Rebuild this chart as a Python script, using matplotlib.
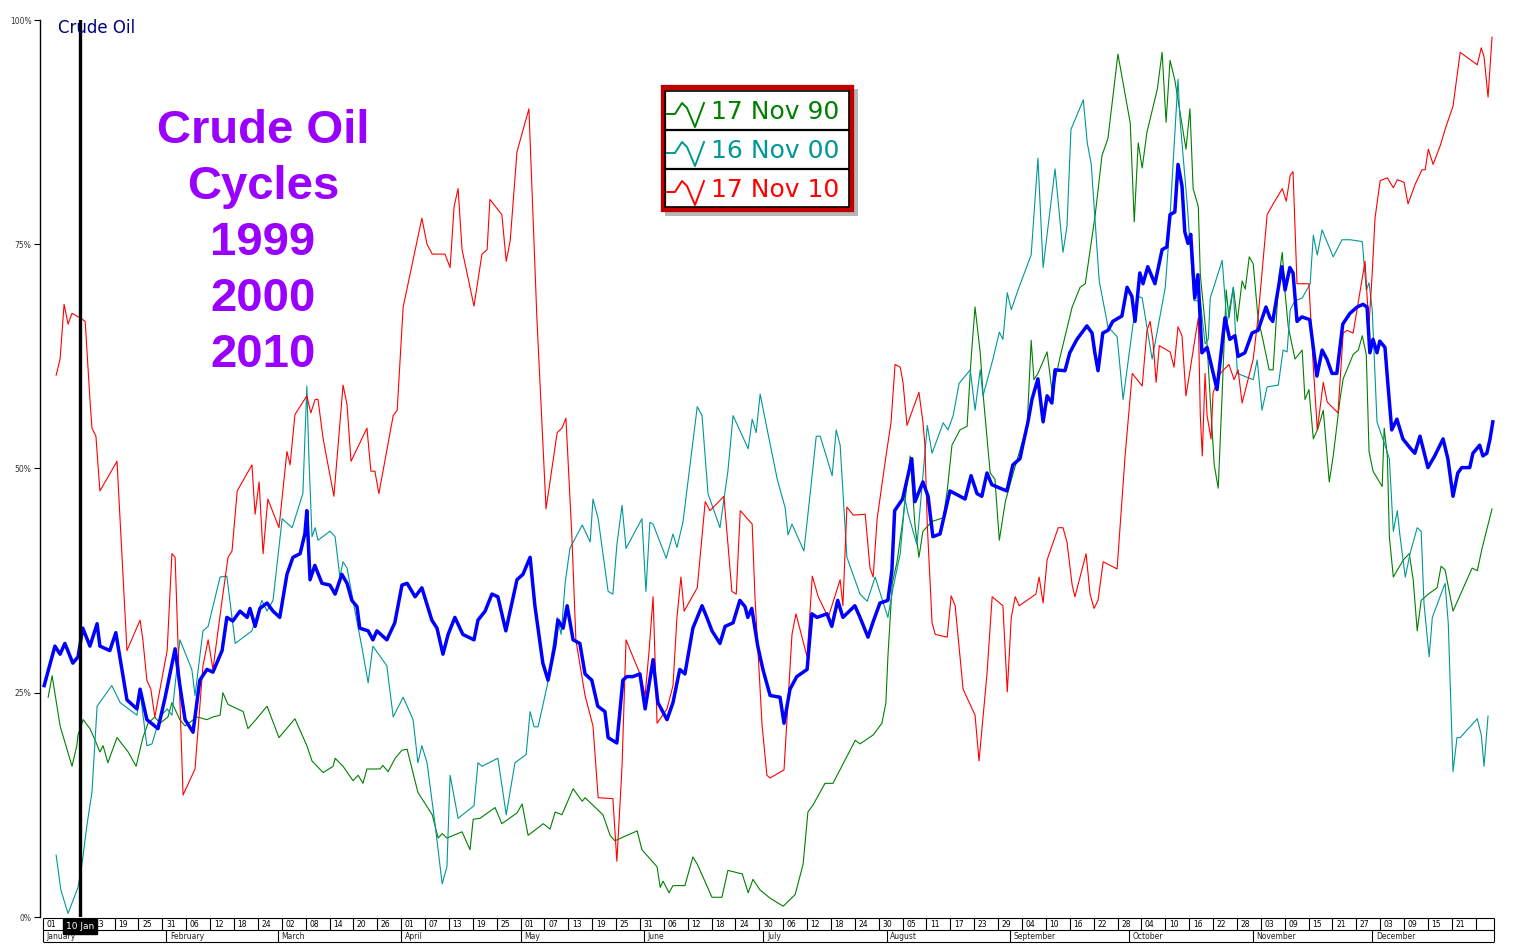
import matplotlib
matplotlib.use("Agg")
import matplotlib.pyplot as plt
from matplotlib.patches import Rectangle

# ---- data (day of year, percent) ----
GREEN_90 = [(1.3, 24.5), (2.3, 26.9), (4.3, 21.3), (7.3, 16.8), (8.5, 19.1), (8.8, 20.3), (10.1, 22.0), (11.8, 21.0),
            (13.1, 19.7), (14.3, 18.4), (15.1, 19.1), (16.3, 17.2), (18.6, 20.0), (21.4, 18.4), (23.4, 16.8), (25.1, 20.0),
            (26.4, 21.6), (28.1, 22.3), (29.4, 21.6), (31.4, 22.3), (32.4, 23.9), (34.4, 22.0), (35.7, 21.3), (38.7, 22.3),
            (41.2, 22.0), (42.7, 22.3), (44.5, 22.5), (45.2, 25.0), (46.5, 23.7), (50.3, 22.9), (51.5, 21.0), (53.3, 21.9),
            (56.3, 23.5), (59.3, 20.0), (63.3, 22.1), (66.3, 19.1), (67.6, 17.4), (70.4, 16.1), (72.9, 16.8), (73.4, 17.7),
            (75.4, 16.8), (77.9, 15.2), (79.2, 15.8), (80.4, 14.9), (81.4, 16.5), (84.7, 16.5), (85.4, 16.9), (86.7, 16.2),
            (88.5, 17.7), (90.2, 18.6), (91.5, 18.7), (94.2, 13.9), (97.8, 11.4), (99.3, 8.8), (100.3, 9.3), (101.5, 8.8),
            (105.3, 9.5), (107.3, 7.5), (108.1, 10.9), (109.8, 11.0), (113.6, 12.2), (115.3, 10.4), (119.1, 11.6),
            (120.4, 12.6), (121.9, 9.1), (125.7, 10.4), (127.4, 9.8), (128.7, 11.7), (130.4, 11.4), (133.2, 14.3),
            (135.5, 12.9), (136.2, 13.3), (140.7, 11.4), (142.5, 9.1), (143.7, 8.5), (149.3, 9.6), (150.5, 7.5),
            (154.3, 5.6), (155.1, 3.3), (155.8, 4.0), (157.3, 2.7), (158.3, 3.5), (161.3, 3.5), (163.3, 6.7), (164.4, 5.9),
            (168.1, 2.2), (170.6, 2.2), (172.1, 5.2), (175.7, 4.8), (177.2, 2.7), (178.4, 4.2), (180.2, 3.0), (182.7, 2.1),
            (186.0, 1.2), (189.0, 2.5), (191.0, 5.9), (192.2, 11.7), (193.5, 12.5), (196.5, 14.9), (198.5, 14.9),
            (204.1, 19.7), (205.3, 19.3), (208.6, 20.3), (210.8, 21.6), (211.8, 23.9), (212.3, 29.0), (213.4, 37.2),
            (214.6, 39.6), (216.1, 44.4), (217.9, 51.4), (219.1, 43.7), (220.1, 40.1), (221.1, 43.0), (223.4, 44.1),
            (226.2, 44.5), (227.2, 47.5), (228.4, 52.6), (230.4, 54.3), (232.2, 54.7), (233.2, 62.2), (234.2, 68.0),
            (235.5, 62.9), (236.2, 58.4), (238.0, 49.5), (239.2, 48.8), (240.3, 42.0), (241.8, 46.3), (243.8, 49.5),
            (247.3, 54.8), (248.3, 64.3), (249.0, 59.9), (250.0, 60.6), (252.3, 63.0), (253.6, 58.4), (255.6, 62.5),
            (258.6, 68.0), (260.6, 70.2), (261.9, 70.6), (264.4, 78.3), (266.1, 84.9), (267.6, 86.8), (270.1, 96.2),
            (273.2, 88.5), (274.2, 77.5), (275.2, 86.3), (276.2, 83.5), (277.4, 87.5), (280.0, 92.3), (281.2, 96.4),
            (282.2, 88.6), (283.2, 95.5), (284.4, 93.3), (287.2, 85.6), (288.2, 90.1), (289.0, 81.2), (290.3, 79.2),
            (290.8, 71.6), (292.5, 63.9), (293.3, 57.7), (294.3, 50.4), (295.3, 47.8), (296.3, 58.4), (297.3, 69.9),
            (298.0, 66.8), (299.1, 70.2), (300.1, 66.4), (301.3, 70.9), (302.1, 70.0), (303.1, 73.6), (304.1, 72.8),
            (305.3, 66.8), (306.6, 64.2), (308.1, 61.0), (309.1, 61.0), (310.6, 71.6), (311.4, 74.1), (312.1, 69.6),
            (312.9, 65.8), (314.6, 62.2), (316.4, 63.2), (317.1, 57.7), (318.1, 58.8), (319.2, 53.3), (320.4, 54.5),
            (321.7, 56.5), (323.2, 48.5), (324.2, 51.4), (325.9, 57.7), (326.7, 60.0), (329.2, 62.7), (330.5, 63.2),
            (331.5, 64.8), (332.5, 62.7), (333.2, 51.9), (334.2, 49.7), (336.5, 48.0), (337.0, 54.5), (337.8, 51.4),
            (338.3, 42.4), (339.3, 37.9), (341.8, 39.8), (343.3, 40.5), (344.3, 37.6), (345.3, 31.9), (346.3, 35.3),
            (348.1, 36.0), (350.3, 36.7), (351.3, 39.1), (352.3, 38.7), (354.3, 34.1), (359.1, 38.9), (360.4, 38.6),
            (361.6, 41.1), (364.1, 45.5)]

TEAL_00 = [(3.3, 6.9), (4.5, 3.0), (6.3, 0.4), (8.8, 3.3), (9.8, 5.9), (11.1, 10.4), (12.3, 13.9), (13.6, 23.5),
           (17.3, 25.8), (19.4, 23.9), (23.6, 22.5), (24.4, 25.1), (26.1, 19.1), (27.4, 19.3), (29.4, 22.3), (31.2, 23.2),
           (32.4, 22.5), (34.4, 30.9), (37.4, 27.6), (38.2, 24.7), (40.2, 31.9), (41.5, 32.4), (44.5, 37.9), (46.2, 38.0),
           (48.3, 30.5), (52.5, 31.9), (55.0, 35.3), (56.3, 34.1), (57.8, 35.3), (60.1, 44.4), (62.6, 43.4), (65.3, 47.2),
           (66.3, 59.2), (66.8, 51.4), (67.6, 42.4), (68.4, 43.4), (69.1, 42.0), (72.1, 43.0), (73.4, 42.4), (74.6, 37.9),
           (75.4, 39.6), (76.4, 38.9), (78.4, 34.1), (80.2, 29.9), (81.7, 26.1), (82.9, 30.2), (86.4, 28.0), (88.0, 22.3),
           (90.5, 24.5), (93.0, 22.0), (94.2, 17.2), (95.2, 19.1), (96.5, 17.2), (98.5, 10.4), (100.3, 3.7), (101.5, 5.6),
           (102.3, 15.8), (104.3, 11.0), (108.3, 12.4), (109.3, 17.2), (110.3, 16.8), (114.3, 17.7), (116.4, 11.4),
           (118.6, 17.2), (121.4, 18.1), (122.4, 22.9), (123.4, 21.2), (124.4, 21.2), (126.7, 25.8), (129.2, 33.4),
           (130.2, 31.5), (131.2, 37.2), (132.4, 41.1), (135.5, 43.7), (137.5, 41.8), (138.2, 46.6), (139.5, 44.4),
           (142.0, 36.3), (143.2, 36.0), (144.2, 41.5), (145.5, 45.9), (146.5, 41.1), (150.5, 44.4), (151.5, 36.3),
           (152.5, 44.0), (153.3, 43.8), (156.6, 40.0), (158.3, 42.7), (159.3, 41.2), (160.8, 44.0), (164.4, 56.9),
           (165.6, 55.9), (167.1, 47.2), (170.1, 43.4), (172.1, 49.7), (173.4, 55.9), (177.2, 52.2), (178.2, 55.5),
           (179.2, 54.0), (180.2, 58.3), (181.9, 54.5), (184.5, 48.8), (186.5, 45.6), (187.2, 42.6), (188.2, 43.8),
           (191.2, 40.8), (192.7, 46.9), (194.3, 53.6), (195.3, 53.6), (198.3, 49.2), (199.3, 54.3), (200.3, 52.6),
           (202.0, 40.1), (205.3, 36.0), (207.1, 35.2), (209.1, 37.9), (212.3, 33.4), (213.6, 36.7), (215.4, 40.5),
           (216.6, 46.6), (217.4, 44.9), (219.6, 41.5), (222.2, 54.8), (223.4, 51.7), (226.2, 55.1), (227.4, 54.3),
           (228.7, 55.9), (230.2, 59.5), (233.0, 61.0), (234.2, 56.5), (235.5, 61.0), (236.2, 58.1), (238.7, 62.2),
           (240.3, 65.2), (241.2, 64.4), (242.3, 69.6), (243.3, 67.7), (245.0, 69.9), (248.3, 73.8), (250.0, 84.6),
           (251.3, 72.4), (254.3, 83.4), (256.3, 74.1), (257.3, 77.0), (258.3, 87.8), (261.4, 91.1), (262.4, 86.3),
           (263.4, 83.9), (265.4, 70.9), (267.6, 65.8), (269.9, 64.7), (271.4, 57.7), (273.9, 66.1), (275.2, 69.2),
           (276.2, 69.0), (278.7, 62.2), (282.0, 70.2), (282.7, 74.4), (285.2, 93.4), (285.7, 88.9), (287.5, 79.5),
           (289.2, 68.7), (290.8, 68.7), (292.0, 63.9), (292.8, 64.4), (293.3, 69.0), (296.3, 73.2), (297.5, 66.1),
           (298.3, 68.3), (299.1, 70.2), (300.1, 60.6), (304.1, 59.9), (305.1, 62.1), (306.3, 56.5), (307.6, 59.1),
           (310.4, 59.3), (311.6, 63.2), (312.6, 63.0), (313.4, 67.7), (314.6, 68.7), (316.4, 69.0), (318.4, 70.6),
           (319.2, 76.0), (320.2, 73.8), (321.4, 76.6), (324.2, 73.6), (326.4, 75.5), (328.5, 75.5), (331.5, 75.3),
           (332.5, 69.9), (333.2, 70.7), (334.0, 67.7), (335.2, 55.2), (337.2, 52.6), (338.3, 51.1), (339.3, 43.0),
           (340.3, 45.3), (341.0, 42.4), (342.3, 37.9), (343.5, 40.5), (345.3, 43.4), (346.3, 43.0), (347.0, 35.0),
           (348.3, 29.0), (349.1, 33.4), (352.3, 37.2), (353.1, 32.8), (353.8, 23.2), (354.3, 16.2), (355.3, 20.0),
           (356.1, 20.0), (360.4, 22.1), (361.4, 20.3), (362.1, 16.8), (363.1, 22.4)]

RED_10 = [(3.3, 60.4), (4.3, 62.2), (5.3, 68.3), (6.3, 66.1), (7.3, 67.3), (9.3, 66.8), (10.6, 66.4), (11.8, 57.7),
          (12.3, 54.5), (13.3, 53.6), (14.3, 47.5), (18.6, 50.8), (21.1, 29.7), (24.4, 33.1), (25.1, 30.9), (26.1, 26.4),
          (27.1, 25.4), (28.1, 22.3), (31.2, 29.7), (32.4, 40.5), (33.2, 40.1), (35.2, 13.6), (38.2, 16.5), (40.2, 28.0),
          (41.5, 30.9), (42.7, 27.6), (45.0, 35.3), (46.5, 40.1), (47.5, 40.8), (48.8, 47.5), (52.5, 50.4), (53.3, 44.9),
          (54.3, 48.5), (55.3, 40.5), (56.5, 46.6), (59.3, 43.4), (61.3, 51.9), (62.1, 50.4), (63.3, 56.0), (66.3, 58.1),
          (67.3, 56.2), (68.4, 57.7), (69.1, 57.7), (70.4, 53.3), (73.1, 46.9), (75.4, 59.3), (76.4, 57.1), (77.4, 50.8),
          (81.4, 54.5), (82.4, 49.7), (83.4, 49.7), (84.4, 47.2), (88.0, 55.9), (89.0, 56.5), (90.5, 68.0), (95.2, 77.9),
          (96.5, 75.0), (97.8, 73.9), (101.0, 73.9), (102.3, 72.4), (103.3, 79.2), (104.3, 81.2), (105.3, 74.4),
          (108.3, 68.1), (110.3, 73.9), (111.6, 74.4), (112.3, 80.0), (115.3, 78.3), (116.4, 73.1), (117.4, 75.4),
          (119.1, 85.3), (122.1, 90.1), (124.1, 66.8), (126.4, 45.5), (129.2, 54.0), (130.4, 54.5), (131.4, 55.6),
          (132.9, 42.4), (133.9, 30.9), (136.2, 24.7), (138.2, 21.3), (139.5, 13.3), (143.2, 13.2), (144.2, 6.2),
          (145.5, 16.8), (146.5, 30.9), (150.0, 27.1), (151.3, 24.7), (152.3, 29.7), (153.3, 35.7), (154.3, 21.6),
          (156.8, 23.2), (158.3, 25.8), (159.3, 33.4), (160.3, 37.9), (161.1, 34.1), (164.4, 36.7), (166.4, 46.3),
          (167.6, 45.3), (171.1, 46.9), (173.1, 36.3), (174.2, 36.0), (175.2, 45.3), (178.2, 43.8), (178.9, 35.7),
          (180.7, 21.3), (181.9, 15.8), (182.7, 15.5), (186.2, 16.4), (188.2, 31.5), (189.2, 33.8), (192.0, 29.0),
          (193.3, 38.0), (194.8, 35.7), (197.3, 33.4), (200.3, 37.6), (201.0, 34.7), (202.0, 45.7), (203.6, 44.8),
          (206.6, 44.9), (207.8, 38.9), (208.6, 37.9), (209.6, 44.4), (211.6, 50.7), (213.1, 55.2), (214.1, 61.6),
          (215.4, 61.3), (216.1, 59.6), (217.1, 54.8), (220.1, 58.5), (221.1, 55.2), (221.6, 52.6), (222.2, 43.7),
          (223.4, 32.8), (224.2, 31.5), (227.2, 31.2), (228.2, 35.8), (229.2, 34.7), (231.2, 25.4), (234.2, 22.5),
          (235.2, 17.4), (237.2, 27.1), (238.5, 35.7), (241.2, 34.7), (242.3, 25.1), (243.3, 33.4), (244.3, 35.7),
          (245.3, 34.7), (249.5, 36.0), (250.3, 37.9), (251.3, 35.0), (252.3, 39.8), (255.1, 43.4), (256.3, 43.4),
          (257.3, 41.8), (258.6, 37.0), (259.3, 35.7), (262.1, 40.5), (263.1, 36.0), (264.1, 34.4), (265.1, 35.3),
          (266.4, 39.6), (269.9, 38.8), (270.4, 42.0), (271.9, 51.4), (273.7, 60.6), (276.2, 59.2), (277.4, 65.4),
          (278.2, 66.4), (278.9, 64.2), (279.7, 59.6), (280.5, 63.7), (283.2, 63.0), (284.2, 61.3), (285.2, 65.8),
          (286.2, 64.8), (287.2, 58.1), (290.3, 66.8), (290.8, 55.9), (291.3, 51.4), (292.0, 60.6), (292.5, 55.9),
          (293.5, 53.3), (294.0, 58.4), (295.8, 60.6), (298.0, 61.6), (299.3, 59.9), (300.3, 61.0), (301.3, 57.3),
          (304.1, 62.2), (305.3, 66.8), (307.6, 78.3), (309.1, 79.5), (311.4, 81.2), (312.4, 79.8), (313.4, 82.7),
          (314.1, 83.1), (315.1, 70.6), (318.1, 70.6), (319.2, 61.3), (320.2, 54.3), (321.7, 59.6), (322.7, 57.4),
          (325.4, 56.2), (326.7, 65.1), (327.7, 65.4), (329.2, 65.1), (332.2, 73.1), (332.7, 69.2), (333.2, 66.1),
          (334.0, 71.8), (334.7, 77.9), (336.0, 82.1), (337.8, 82.4), (339.3, 81.3), (340.3, 82.2), (342.0, 81.9),
          (343.0, 79.5), (344.8, 81.7), (346.5, 83.3), (347.3, 83.3), (348.1, 85.6), (349.3, 83.9), (351.1, 86.0),
          (352.3, 87.8), (354.3, 90.4), (356.1, 96.4), (360.4, 95.0), (361.4, 96.9), (362.1, 95.9), (363.1, 91.4),
          (364.1, 98.1)]

AVERAGE = [(0.3, 25.8), (3.0, 30.2), (4.3, 29.3), (5.5, 30.5), (7.5, 28.3), (8.8, 29.0), (10.0, 32.2), (11.8, 30.2),
           (13.6, 32.7), (14.3, 30.2), (16.8, 29.7), (18.3, 31.7), (21.1, 24.2), (23.6, 23.2), (24.4, 25.4), (26.1, 22.0),
           (28.9, 21.0), (30.7, 24.5), (33.2, 29.9), (34.4, 25.8), (35.7, 22.0), (37.7, 20.6), (39.4, 26.4), (41.2, 27.6),
           (42.7, 27.3), (45.0, 29.7), (46.2, 33.4), (47.7, 33.0), (49.5, 34.1), (51.3, 33.4), (52.0, 34.4), (53.3, 32.4),
           (54.5, 34.4), (56.3, 35.0), (57.8, 34.1), (59.5, 33.4), (61.3, 38.2), (62.8, 40.1), (64.6, 40.5), (65.8, 42.7),
           (66.3, 45.3), (67.1, 37.6), (68.3, 39.2), (70.1, 37.2), (72.1, 37.0), (73.4, 36.0), (75.1, 38.2), (76.4, 37.2),
           (77.6, 35.3), (78.9, 34.6), (79.6, 32.2), (81.7, 31.9), (82.9, 30.9), (83.9, 31.9), (86.4, 30.9), (88.4, 32.8),
           (90.2, 37.0), (91.5, 37.2), (93.5, 35.7), (95.2, 36.7), (97.7, 33.1), (99.0, 32.2), (100.5, 29.3),
           (101.8, 31.5), (103.5, 33.4), (105.5, 31.5), (108.3, 30.9), (109.3, 33.1), (111.1, 34.1), (112.8, 36.0),
           (114.3, 35.7), (116.3, 31.9), (119.1, 37.6), (120.6, 38.2), (122.4, 40.1), (123.6, 34.7), (125.6, 28.3),
           (126.9, 26.4), (128.6, 30.2), (129.4, 33.1), (130.7, 32.2), (131.7, 34.7), (133.2, 30.9), (134.9, 30.5),
           (136.2, 27.1), (137.9, 26.4), (139.4, 23.5), (141.2, 22.9), (142.0, 20.0), (144.2, 19.4), (145.7, 26.4),
           (146.7, 26.8), (148.2, 26.8), (150.0, 27.1), (151.3, 23.2), (153.3, 28.7), (154.5, 23.9), (156.8, 22.0),
           (158.3, 23.9), (160.0, 27.6), (161.3, 27.1), (163.3, 32.2), (165.6, 34.7), (166.8, 33.4), (168.1, 31.9),
           (170.1, 30.5), (171.4, 32.4), (173.4, 32.8), (175.1, 35.3), (176.4, 34.6), (177.1, 33.4), (178.1, 34.4),
           (179.6, 30.2), (180.9, 27.6), (182.7, 24.7), (185.2, 24.5), (186.2, 21.6), (187.7, 25.4), (189.4, 26.8),
           (192.0, 27.6), (193.2, 33.8), (194.5, 33.4), (197.0, 33.8), (198.2, 32.4), (199.7, 35.3), (201.0, 33.4),
           (204.0, 34.7), (205.3, 33.4), (207.3, 31.2), (208.5, 32.8), (210.3, 35.0), (212.3, 35.3), (213.3, 38.6),
           (214.0, 45.3), (216.0, 46.6), (218.3, 51.1), (219.1, 46.3), (221.1, 48.5), (222.4, 46.9), (223.6, 42.4),
           (225.4, 42.7), (227.9, 47.5), (230.4, 46.9), (231.7, 46.6), (233.2, 49.2), (234.7, 47.2), (235.9, 46.9),
           (237.2, 49.5), (238.4, 48.2), (240.5, 47.8), (242.2, 47.5), (243.7, 50.4), (245.5, 51.1), (246.2, 52.6),
           (247.5, 55.2), (248.5, 57.7), (250.0, 60.0), (251.3, 55.2), (252.3, 58.1), (253.5, 57.3), (254.3, 61.0),
           (256.8, 60.9), (258.0, 62.9), (259.8, 64.4), (262.3, 65.9), (263.6, 65.1), (264.3, 62.9), (265.1, 60.9),
           (266.3, 65.1), (267.6, 65.4), (268.8, 66.4), (271.1, 67.0), (272.4, 70.2), (273.6, 69.2), (274.4, 66.4),
           (275.6, 71.8), (276.4, 70.6), (277.6, 72.5), (279.4, 70.6), (281.2, 74.4), (282.4, 74.7), (283.2, 78.3),
           (284.4, 78.6), (285.2, 83.9), (286.2, 81.5), (286.9, 76.4), (287.7, 75.1), (288.4, 76.1), (289.4, 69.0),
           (290.2, 71.6), (291.2, 62.9), (292.5, 63.5), (293.2, 62.2), (295.0, 58.8), (297.0, 66.8), (298.2, 64.4),
           (299.5, 64.8), (300.3, 62.5), (302.0, 62.9), (303.8, 65.1), (305.3, 65.4), (307.3, 68.0), (308.3, 66.8),
           (309.0, 66.4), (311.3, 72.5), (312.1, 69.9), (313.3, 72.4), (314.1, 71.8), (315.1, 66.4), (316.3, 66.9),
           (318.3, 66.6), (320.1, 60.3), (321.4, 63.2), (322.6, 62.2), (323.9, 60.6), (325.1, 60.6), (326.6, 66.1),
           (328.4, 67.3), (330.2, 68.0), (331.7, 68.3), (332.7, 68.0), (333.4, 62.9), (334.2, 64.4), (335.2, 62.9),
           (335.9, 64.2), (337.2, 63.5), (337.9, 59.6), (338.9, 54.3), (340.2, 55.5), (341.7, 53.3), (343.5, 52.3),
           (344.7, 51.7), (346.0, 53.6), (348.0, 50.1), (349.7, 51.4), (351.8, 53.3), (353.0, 51.1), (354.3, 46.9),
           (355.5, 49.5), (356.5, 50.1), (358.5, 50.1), (359.3, 51.7), (361.0, 52.6), (361.8, 51.4), (362.8, 51.7),
           (363.6, 53.3), (364.3, 55.2)]

Y_TICKS = [0, 25, 50, 75, 100]
Y_LABELS = ["0%", "25%", "50%", "75%", "100%"]

# every 6th day from 1 Jan, labelled with day of month
TICK_DAYS = list(range(0, 361, 6))
DAY_LABELS = ["01", "07", "13", "19", "25", "31", "06", "12", "18", "24", "02", "08", "14", "20", "26",
              "01", "07", "13", "19", "25", "01", "07", "13", "19", "25", "31", "06", "12", "18", "24", "30",
              "06", "12", "18", "24", "30", "05", "11", "17", "23", "29", "04", "10", "16", "22", "28",
              "04", "10", "16", "22", "28", "03", "09", "15", "21", "27", "03", "09", "15", "21", ""]
MONTH_START = [0, 31, 59, 90, 120, 151, 181, 212, 243, 273, 304, 334]
MONTHS = ["January", "February", "March", "April", "May", "June", "July", "August",
          "September", "October", "November", "December"]
END_DAY = 364.6
CURSOR_DAY = 9.3
CURSOR_LABEL = "10 Jan"

LEGEND_LABELS = ["17 Nov 90", "16 Nov 00", "17 Nov 10"]
COLORS = ["#008000", "#009797", "#ff0000"]
TITLE_LINES = ["Crude Oil", "Cycles", "1999", "2000", "2010"]

W, H = 1516, 947
fig = plt.figure(figsize=(W / 100, H / 100), dpi=100)

# main plot
ax = fig.add_axes([40 / W, 30 / H, 1456 / W, 897 / H])
ax.set_xlim(-0.75, 365.1)
ax.set_ylim(0, 100)
for s in ("top", "right", "bottom"):
    ax.spines[s].set_visible(False)
ax.spines["left"].set_linewidth(1.0)
ax.set_xticks([])
ax.set_yticks(Y_TICKS)
ax.set_yticklabels(Y_LABELS, fontsize=5.5, color="#333333")
ax.tick_params(axis="y", length=4, width=0.8, pad=2)

for series, col in zip((GREEN_90, TEAL_00, RED_10), COLORS):
    d, p = zip(*series)
    ax.plot(d, p, color=col, lw=0.8)
d, p = zip(*AVERAGE)
ax.plot(d, p, color="#0000ff", lw=2.5, solid_joinstyle="round")
ax.axvline(CURSOR_DAY, color="black", lw=2.4)

# date table under the plot
tab = fig.add_axes([40 / W, 5 / H, 1456 / W, 24 / H])
tab.set_xlim(ax.get_xlim())
tab.set_ylim(0, 2)
tab.axis("off")
tab.hlines([0, 1, 2], 0, END_DAY, color="black", lw=0.8, clip_on=False)
tab.vlines(TICK_DAYS, 1, 2, color="black", lw=0.8)
tab.vlines(MONTH_START, 0, 1, color="black", lw=0.8)
tab.vlines(END_DAY, 0, 2, color="black", lw=0.8)
for dd, lab in zip(TICK_DAYS, DAY_LABELS):
    tab.text(dd + 0.9, 1.48, lab, fontsize=5.5, va="center", ha="left")
for dd, lab in zip(MONTH_START, MONTHS):
    tab.text(dd + 0.9, 0.48, lab, fontsize=5.5, va="center", ha="left", color="#222222")
# cursor tag sits on top of the first day cells, as in the source chart
tab.text(CURSOR_DAY, 1.3, CURSOR_LABEL, color="white", fontsize=6.5, ha="center", va="center", zorder=5,
         bbox=dict(boxstyle="square,pad=0.3", fc="black", ec="black"))

# overlay in pixel coords for the annotations
ov = fig.add_axes([0, 0, 1, 1])
ov.set_xlim(0, W)
ov.set_ylim(H, 0)
ov.axis("off")
ov.patch.set_alpha(0)

ov.text(58, 33, "Crude Oil", color="#000080", fontsize=12, ha="left", va="baseline")
for i, line in enumerate(TITLE_LINES):
    ov.text(263, 143 + 56 * i, line, ha="center", va="baseline", fontsize=34, fontweight="bold",
            family="Liberation Sans", color="#9900ff")

# legend box
ov.add_patch(Rectangle((665, 89), 193, 127, fc="#888888", ec="none", alpha=0.6))
ov.add_patch(Rectangle((662.5, 86.5), 188.5, 122, fc="white", ec="#c00000", lw=3.8))
ov.add_patch(Rectangle((665, 91), 183.5, 116, fc="none", ec="black", lw=1.2))
ov.hlines([130, 169], 665, 848.5, color="black", lw=1.6)
icon_dx = [0, 8, 15, 20, 28, 37]
icon_dy = [3, 3, -8, -3, 16, -8]
for k, (lab, col) in enumerate(zip(LEGEND_LABELS, COLORS)):
    cy = 111 + 39 * k
    ov.plot([667 + x for x in icon_dx], [cy + y for y in icon_dy], color=col, lw=1.4)
    ov.text(711, cy + 1, lab, color=col, fontsize=18, ha="left", va="center")

fig.savefig("out.png", dpi=100)
